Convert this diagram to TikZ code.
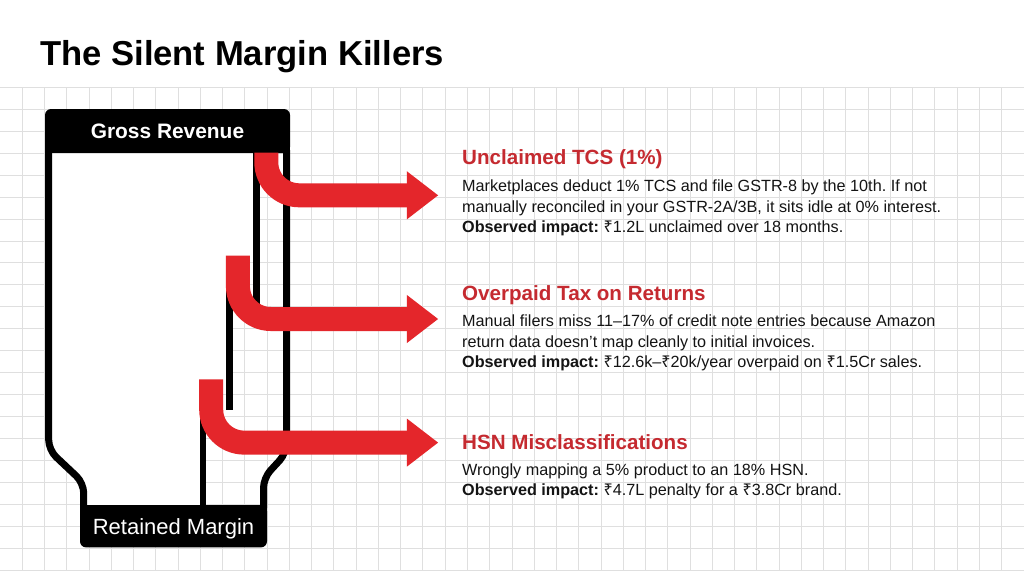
\documentclass[tikz,border=0pt]{standalone}
\usepackage{fontspec}
\setmainfont{Liberation Sans}
\newfontfamily\rsfont{Noto Sans}
\usepackage{tikz}
\usetikzlibrary{arrows.meta}
\definecolor{leak}{HTML}{E4262B}
\definecolor{headred}{HTML}{C52A30}
\definecolor{gridc}{HTML}{DFDFDF}
\definecolor{ink}{HTML}{141414}
\newcommand{\rs}{{\rsfont ₹}}
\frenchspacing
\tikzset{
  gridline/.style={draw=gridc, line width=0.9pt},
  wall/.style={draw=black, line width=7pt, rounded corners=10pt, line join=round},
  divider/.style={draw=black, line width=6.5pt},
  flow/.style={draw=leak, line width=24pt, rounded corners=33pt, -{Triangle[length=31.5pt,width=46pt]}},
  capbox/.style={fill=black, text=white, rounded corners=6pt, inner sep=0pt, text depth=0pt},
  leakhead/.style={anchor=base west, inner sep=0pt, text=headred, font=\fontsize{20.6}{24}\selectfont\bfseries},
  leaktext/.style={anchor=base west, inner sep=0pt, text=ink, font=\fontsize{16.2}{20}\selectfont},
}

\begin{document}
\begin{tikzpicture}[x=1pt, y=-1pt]
  \useasboundingbox (0,0) rectangle (1024,571);
  \fill[white] (0,0) rectangle (1024,571);

  % grid paper below the title
  \foreach \i in {1,...,46}
    \draw[gridline] (\i*22.26,87.3) -- (\i*22.26,571);
  \foreach \j in {0,...,22}
    \draw[gridline] (0,87.3+\j*21.95) -- (1024,87.3+\j*21.95);

  \node[anchor=base west, inner sep=0pt, font=\fontsize{34.6}{40}\selectfont\bfseries] (title) at (40,65.7) {The Silent Margin Killers};

  % funnel body
  \fill[white] (48.7,152) -- (256.5,152) -- (256.5,256) -- (229.5,256) -- (229.5,380)
    -- (202.8,380) -- (202.8,506) -- (83.7,506) -- (83.7,483) -- (48.7,450) -- cycle;
  \draw[wall] (48.7,150) -- (48.7,450) -- (83.7,483) -- (83.7,508);
  \draw[wall] (286.5,150) -- (286.5,453) -- (263.5,478) -- (263.5,508);
  \draw[divider] (256.5,150) -- (256.5,305);
  \draw[divider] (229.5,256) -- (229.5,410);
  \draw[divider] (202.8,380) -- (202.8,508);

  % top and bottom caps
  \fill (45,131) rectangle (290,153);
  \node[capbox, minimum width=245pt, minimum height=44pt, text height=15pt,
    font=\fontsize{20.9}{24}\selectfont\bfseries] (gross) at (167.5,131) {Gross Revenue};
  \fill (80,505) rectangle (267,526);
  \node[capbox, minimum width=187pt, minimum height=42.3pt, text height=15.7pt,
    font=\fontsize{22}{26}\selectfont] (kept) at (173.5,526.2) {Retained Margin};

  % the three leaks
  \coordinate (tip1) at (438.3,195.3);
  \coordinate (tip2) at (438.3,319);
  \coordinate (tip3) at (438.3,442.6);
  \draw[flow] (266.3,152.5) -- (266.3,195.3) -- (tip1);
  \draw[flow] (237.9,255.5) -- (237.9,319) -- (tip2);
  \draw[flow] (211.2,379.3) -- (211.2,442.6) -- (tip3);

  % leak 1
  \node[leakhead] (tcs) at (462,164.3) {Unclaimed TCS (1\%)};
  \node[leaktext] (tcs1) at (462,191.7) {Marketplaces deduct 1\% TCS and file GSTR-8 by the 10th. If not};
  \node[leaktext] (tcs2) at (462,212.2) {manually reconciled in your GSTR-2A/3B, it sits idle at 0\% interest.};
  \node[leaktext] (tcs3) at (462,232.7) {\textbf{Observed impact:} \rs1.2L unclaimed over 18 months.};

  % leak 2
  \node[leakhead] (ret) at (462,300) {Overpaid Tax on Returns};
  \node[leaktext] (ret1) at (462,326.7) {Manual filers miss 11--17\% of credit note entries because Amazon};
  \node[leaktext] (ret2) at (462,347) {return data doesn’t map cleanly to initial invoices.};
  \node[leaktext] (ret3) at (462,367.5) {\textbf{Observed impact:} \rs12.6k--\rs20k/year overpaid on \rs1.5Cr sales.};

  % leak 3
  \node[leakhead] (hsn) at (462,449) {HSN Misclassifications};
  \node[leaktext] (hsn1) at (462,475) {Wrongly mapping a 5\% product to an 18\% HSN.};
  \node[leaktext] (hsn2) at (462,495.5) {\textbf{Observed impact:} \rs4.7L penalty for a \rs3.8Cr brand.};
\end{tikzpicture}
\end{document}
